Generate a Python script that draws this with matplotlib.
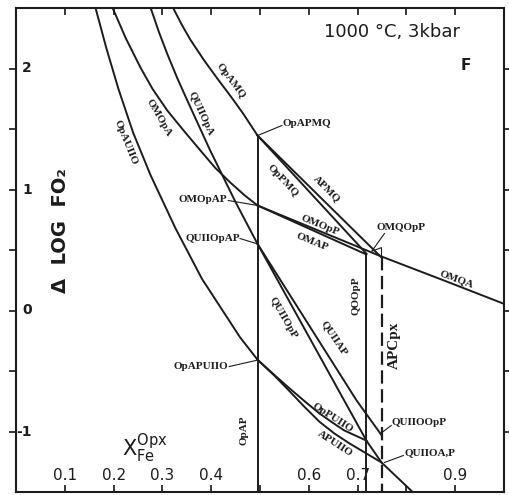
import matplotlib
matplotlib.use("Agg")
import matplotlib.pyplot as plt

# axes: X_Fe in Opx (x), delta log fO2 (y)
x_ticks = [0.1, 0.2, 0.3, 0.4, 0.5, 0.6, 0.7, 0.8, 0.9]
x_tick_labels = ["0.1", "0.2", "0.3", "0.4", "", "0.6", "0.7", "", "0.9"]
y_ticks = [-1.0, -0.5, 0.0, 0.5, 1.0, 1.5, 2.0]
y_label_vals = [2, 1, 0, -1]
y_label_text = ["2", "1", "0", "-1"]

# univariant curves
opauiio_x = [0.163, 0.185, 0.210, 0.240, 0.276, 0.327, 0.381, 0.459, 0.495]
opauiio_y = [2.50, 2.17, 1.83, 1.47, 1.116, 0.678, 0.262, -0.221, -0.407]

omopa_x = [0.198, 0.225, 0.255, 0.280, 0.310, 0.345, 0.378, 0.408, 0.439,
           0.469, 0.495]
omopa_y = [2.50, 2.25, 2.008, 1.83, 1.653, 1.48, 1.322, 1.18, 1.058,
           0.950, 0.868]

quiiopa_x = [0.276, 0.293, 0.310, 0.330, 0.351, 0.398, 0.408, 0.450, 0.495]
quiiopa_y = [2.50, 2.30, 2.12, 1.925, 1.736, 1.322, 1.240, 0.895, 0.550]

opamq_x = [0.322, 0.340, 0.357, 0.385, 0.412, 0.440, 0.465, 0.495]
opamq_y = [2.50, 2.36, 2.24, 2.07, 1.92, 1.77, 1.63, 1.446]

oppmq_x = [0.495, 0.718]
oppmq_y = [1.446, 0.470]
apmq_x = [0.495, 0.749]
apmq_y = [1.446, 0.438]

omopp_x = [0.495, 0.749]
omopp_y = [0.868, 0.446]
omap_x = [0.495, 0.718]
omap_y = [0.868, 0.463]
omqa_x = [0.749, 0.888, 1.0]
omqa_y = [0.446, 0.231, 0.055]

quiiopp_x = [0.495, 0.718, 0.749, 0.818]
quiiopp_y = [0.550, -1.075, -1.256, -1.52]
quiiap_x = [0.495, 0.698, 0.749]
quiiap_y = [0.550, -0.744, -1.030]

oppuiio_x = [0.495, 0.530, 0.561, 0.592, 0.622, 0.648, 0.673, 0.718]
oppuiio_y = [-0.407, -0.535, -0.645, -0.752, -0.851, -0.925, -0.992, -1.075]
apuiio_x = [0.495, 0.530, 0.561, 0.592, 0.622, 0.653, 0.684, 0.749]
apuiio_y = [-0.407, -0.540, -0.669, -0.800, -0.920, -1.018, -1.100, -1.256]

# vertical reactions
opap_x, opap_top = 0.495, 1.446
qoopp_x, qoopp_top = 0.718, 0.470
apcpx_x, apcpx_top = 0.749, 0.440

YMIN, YMAX = -1.5, 2.5
INK = "#1c1c1c"

fig = plt.figure(figsize=(5.1, 4.95), dpi=100)
ax = fig.add_axes([16 / 510, 3 / 495, 488 / 510, 484 / 495])
ax.set_xlim(0, 1.0)
ax.set_ylim(YMIN, YMAX)

curves = [
    (opauiio_x, opauiio_y), (omopa_x, omopa_y), (quiiopa_x, quiiopa_y),
    (opamq_x, opamq_y), (oppmq_x, oppmq_y), (apmq_x, apmq_y),
    (omopp_x, omopp_y), (omap_x, omap_y), (omqa_x, omqa_y),
    (quiiopp_x, quiiopp_y), (quiiap_x, quiiap_y),
    (oppuiio_x, oppuiio_y), (apuiio_x, apuiio_y),
]
for xs, ys in curves:
    ax.plot(xs, ys, color=INK, lw=1.4, solid_joinstyle="round")

ax.plot([opap_x, opap_x], [opap_top, YMIN], color=INK, lw=1.4)
ax.plot([qoopp_x, qoopp_x], [qoopp_top, YMIN], color=INK, lw=1.4)
ax.plot([apcpx_x, apcpx_x], [apcpx_top, YMIN], color=INK, lw=1.6,
        linestyle=(0, (6, 2.5)))

# leader lines for the invariant points
leaders = [
    ([0.545, 0.495], [1.529, 1.446]),
    ([0.435, 0.495], [0.909, 0.868]),
    ([0.459, 0.495], [0.595, 0.550]),
    ([0.437, 0.495], [-0.463, -0.410]),
    ([0.755, 0.729, 0.749, 0.749], [0.636, 0.49, 0.52, 0.44]),
    ([0.769, 0.747], [-0.950, -1.017]),
    ([0.794, 0.755], [-1.198, -1.256]),
]
for xs, ys in leaders:
    ax.plot(xs, ys, color=INK, lw=0.8)

# reaction labels
lab = dict(family="Liberation Serif", fontweight="bold", fontsize=8,
           color=INK, rotation_mode="anchor", ha="center", va="center")
ax.text(0.439, 1.90, "OpAMQ", rotation=-53, **lab)
ax.text(0.378, 1.628, "QUIIOpA", rotation=-65, **lab)
ax.text(0.292, 1.595, "OMOpA", rotation=-60, **lab)
ax.text(0.224, 1.388, "OpAUIIO", rotation=-68, **lab)
ax.text(0.547, 1.074, "OpPMQ", rotation=-47, **lab)
ax.text(0.637, 1.008, "APMQ", rotation=-45, **lab)
ax.text(0.622, 0.702, "OMOpP", rotation=-22, **lab)
ax.text(0.606, 0.562, "OMAP", rotation=-22, **lab)
ax.text(0.902, 0.264, "OMQA", rotation=-20, **lab)
ax.text(0.696, 0.124, "QOOpP", rotation=90, **lab)
ax.text(0.547, -0.058, "QUIIOpP", rotation=-60, **lab)
ax.text(0.653, -0.231, "QUIIAP", rotation=-56, **lab)
ax.text(0.649, -0.884, "OpPUIIO", rotation=-33, **lab)
ax.text(0.653, -1.099, "APUIIO", rotation=-33, **lab)
ax.text(0.467, -0.990, "OpAP", rotation=90, **lab)
lab_big = dict(lab, fontsize=11)
ax.text(0.776, -0.289, "APCpx", rotation=90, **lab_big)

pt = dict(family="Liberation Serif", fontweight="bold", fontsize=8, color=INK,
          va="center")
ax.text(0.547, 1.545, "OpAPMQ", ha="left", **pt)
ax.text(0.739, 0.686, "OMQOpP", ha="left", **pt)
ax.text(0.433, 0.917, "OMOpAP", ha="right", **pt)
ax.text(0.459, 0.595, "QUIIOpAP", ha="right", **pt)
ax.text(0.435, -0.463, "OpAPUIIO", ha="right", **pt)
ax.text(0.769, -0.926, "QUIIOOpP", ha="left", **pt)
ax.text(0.796, -1.174, "QUIIOA,P", ha="left", **pt)

# headings and axis titles drawn inside the frame
ax.text(0.770, 2.298, "1000 °C, 3kbar", ha="center", va="center",
        fontsize=13, color=INK)
ax.text(0.922, 2.025, "F", ha="center", va="center", fontsize=11,
        fontweight="bold", color=INK)
ax.text(0.092, 0.66, "Δ  LOG  FO₂", rotation=90, ha="center", va="center",
        fontsize=14, fontweight="bold", color=INK)
ax.text(0.218, -1.14, r"$\mathrm{X}_{\mathrm{Fe}}^{\mathrm{Opx}}$",
        ha="left", va="center", fontsize=15, color=INK)

# ticks: x ticks point in, y ticks point out, labels sit inside the box
ax.set_xticks(x_ticks)
ax.set_yticks(y_ticks)
ax.tick_params(axis="x", which="both", direction="in", top=True, bottom=True,
               length=5, width=1.1, labelbottom=False)
ax.tick_params(axis="y", which="both", direction="out", left=True, right=True,
               length=5, width=1.1, labelleft=False)
for xv, txt in zip(x_ticks, x_tick_labels):
    if txt:
        ax.text(xv, -1.364, txt, ha="center", va="center", fontsize=11,
                color=INK)
for yv, txt in zip(y_label_vals, y_label_text):
    ax.text(0.033, yv, txt, ha="right", va="center", fontsize=10,
            fontweight="bold", color=INK)

for s in ax.spines.values():
    s.set_linewidth(1.5)
    s.set_color(INK)

fig.savefig("out.png", dpi=100)
